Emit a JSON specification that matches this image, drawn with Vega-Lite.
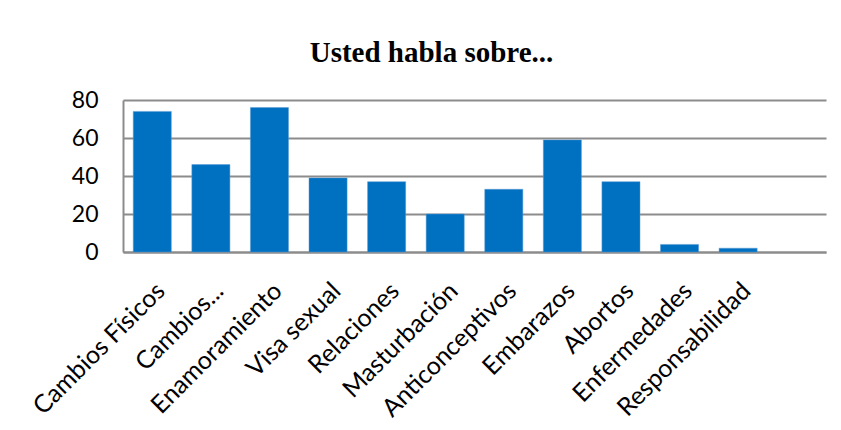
{
  "$schema": "https://vega.github.io/schema/vega-lite/v6.json",
  "width": 703,
  "height": 152,
  "autosize": "none",
  "padding": {"left": 123, "top": 100, "right": 15, "bottom": 178},
  "background": "white",
  "title": {
    "text": "Usted habla sobre...",
    "font": "Liberation Serif",
    "fontSize": 29,
    "fontWeight": "bold",
    "color": "black",
    "anchor": "middle",
    "dx": -43,
    "offset": 21
  },
  "data": {
    "values": [
      {"tema": "Cambios Físicos", "valor": 74},
      {"tema": "Cambios...", "valor": 46},
      {"tema": "Enamoramiento", "valor": 76},
      {"tema": "Visa sexual", "valor": 39},
      {"tema": "Relaciones", "valor": 37},
      {"tema": "Masturbación", "valor": 20},
      {"tema": "Anticonceptivos", "valor": 33},
      {"tema": "Embarazos", "valor": 59},
      {"tema": "Abortos", "valor": 37},
      {"tema": "Enfermedades", "valor": 4},
      {"tema": "Responsabilidad", "valor": 2}
    ]
  },
  "mark": {"type": "bar", "color": "#0070C0", "stroke": "#5B9BD5", "strokeWidth": 0.5},
  "encoding": {
    "x": {
      "field": "tema",
      "type": "nominal",
      "sort": null,
      "scale": {
        "domain": ["Cambios Físicos", "Cambios...", "Enamoramiento", "Visa sexual", "Relaciones", "Masturbación", "Anticonceptivos", "Embarazos", "Abortos", "Enfermedades", "Responsabilidad", " "],
        "paddingInner": 0.35,
        "paddingOuter": 0.175
      },
      "axis": {
        "title": null,
        "labelAngle": -45,
        "labelAlign": "right",
        "labelBaseline": "top",
        "labelFont": "Lato",
        "labelFontSize": 25,
        "labelColor": "black",
        "labelPadding": 26,
        "ticks": false,
        "domainColor": "#8C8C8C",
        "domainWidth": 2,
        "labelOverlap": false,
        "labelLimit": 400
      }
    },
    "y": {
      "field": "valor",
      "type": "quantitative",
      "scale": {"domain": [0, 80]},
      "axis": {
        "title": null,
        "values": [0, 20, 40, 60, 80],
        "labelFont": "Lato",
        "labelFontSize": 23,
        "labelColor": "black",
        "labelPadding": 25,
        "ticks": false,
        "domainColor": "#8C8C8C",
        "domainWidth": 2,
        "gridColor": "#8C8C8C",
        "gridWidth": 2
      }
    }
  },
  "config": {
    "view": {"stroke": null}
  }
}
